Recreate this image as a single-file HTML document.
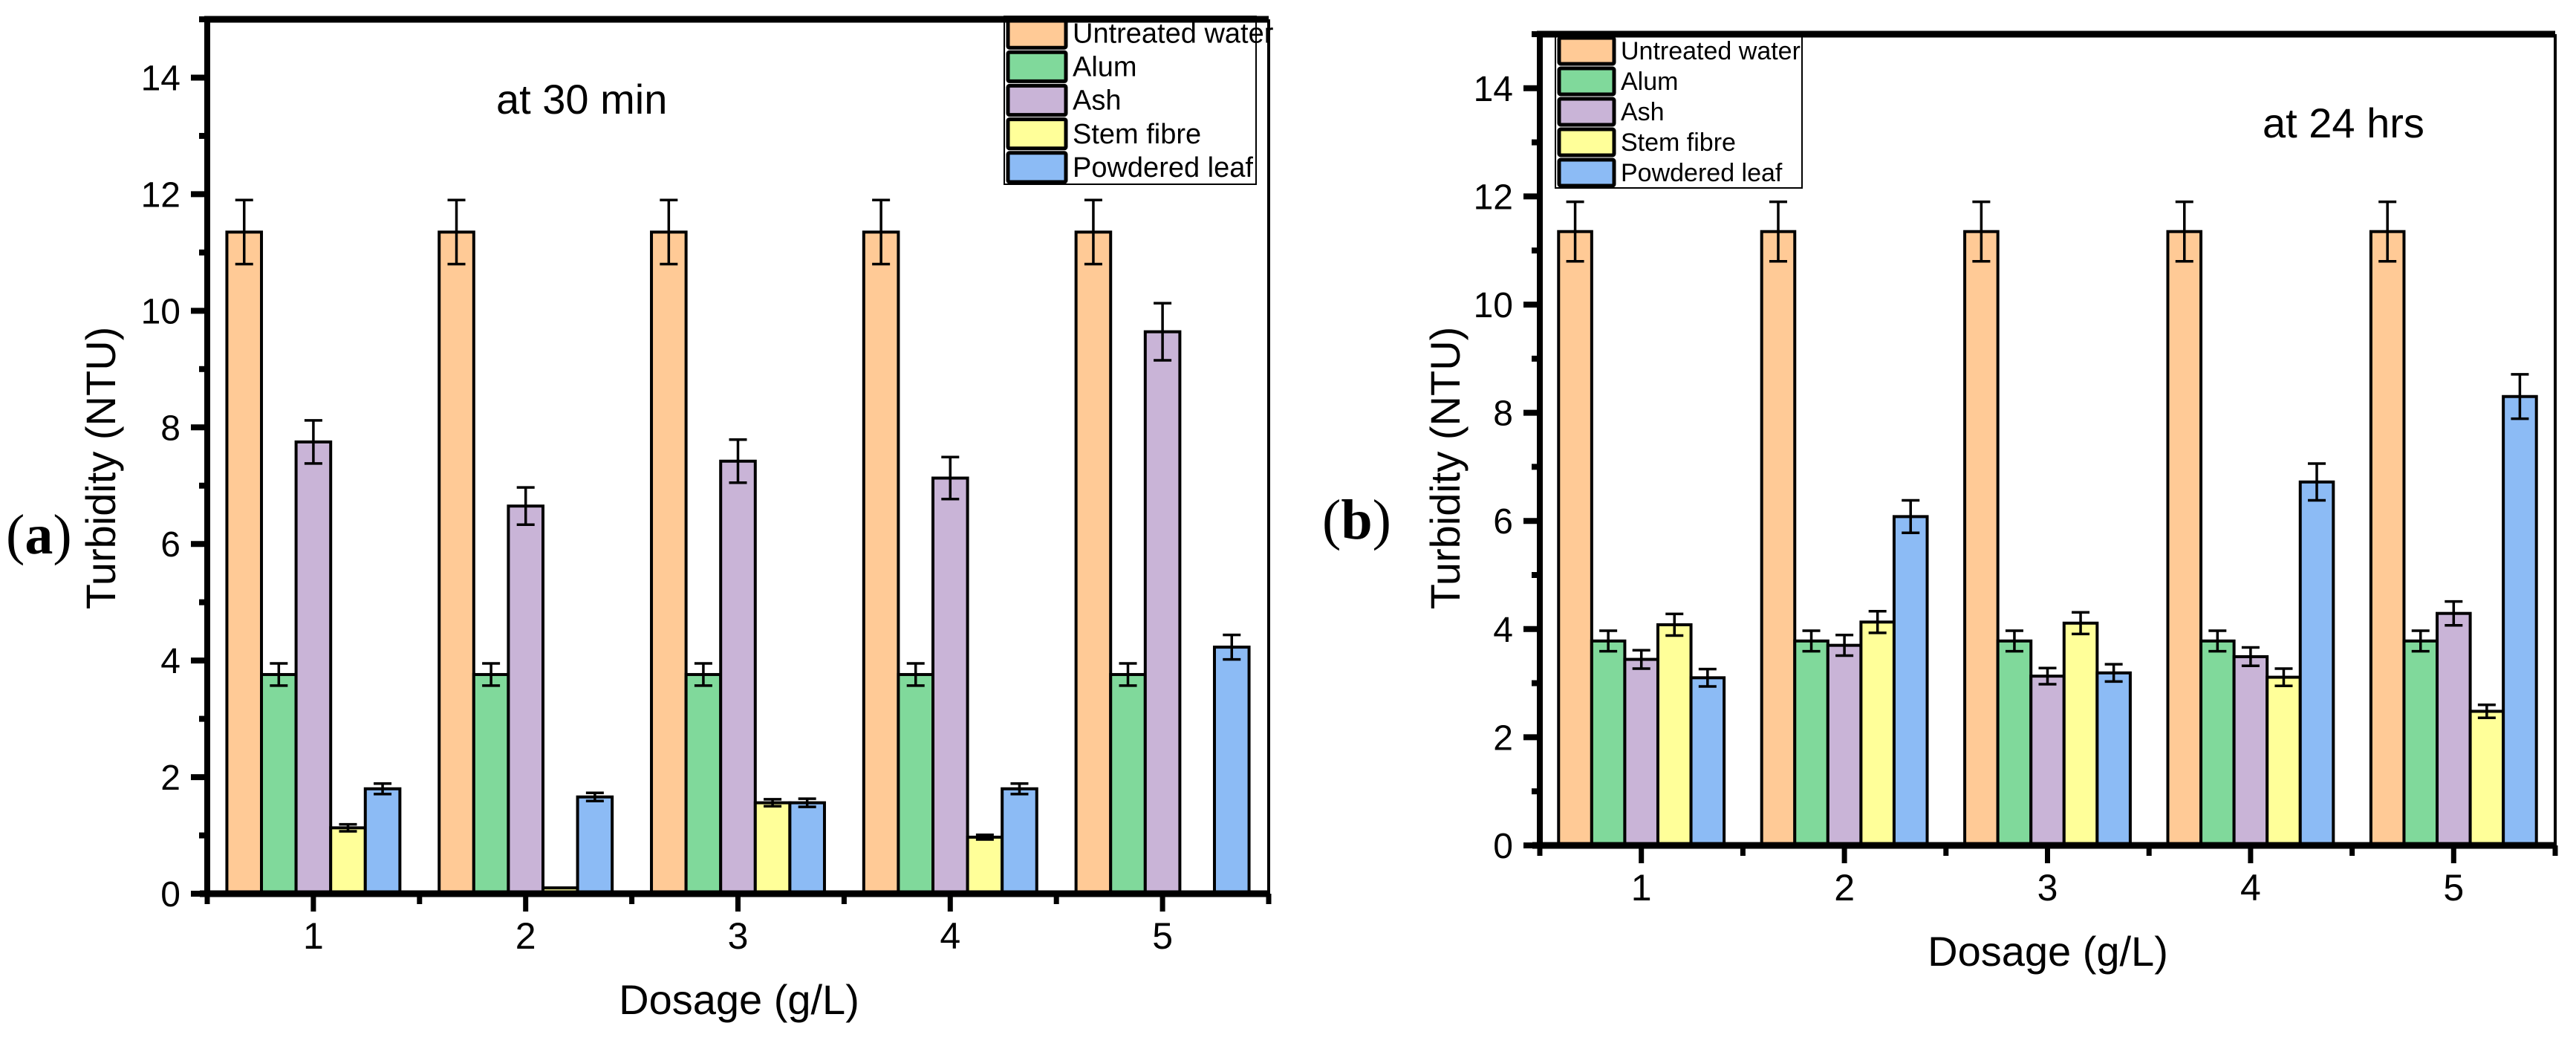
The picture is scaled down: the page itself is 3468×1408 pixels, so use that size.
<!DOCTYPE html>
<html><head><meta charset="utf-8"><style>
html,body{margin:0;padding:0;background:#fff;}
svg{display:block;}
text{font-family:"Liberation Sans",sans-serif;fill:#000;}
</style></head><body>
<svg id="fig" width="3468" height="1408" viewBox="0 0 3468 1408" xmlns="http://www.w3.org/2000/svg">
<rect width="3468" height="1408" fill="#fff"/>
</svg>
<script>
const categories = [1, 2, 3, 4, 5];
const seriesNames = ["Untreated water", "Alum", "Ash", "Stem fibre", "Powdered leaf"];
const seriesColors = ["#FFCA96", "#80D99B", "#C9B4D7", "#FFFF99", "#8CBBF5"];
const yTicks = [0, 2, 4, 6, 8, 10, 12, 14];
// panel (a) at 30 min
const a_untreated = [11.35, 11.35, 11.35, 11.35, 11.35];
const a_alum = [3.76, 3.76, 3.76, 3.76, 3.76];
const a_ash = [7.75, 6.65, 7.42, 7.13, 9.64];
const a_stem = [1.13, 0.1, 1.56, 0.97, 0];
const a_powder = [1.8, 1.66, 1.56, 1.8, 4.23];
const a_untreated_err = [0.55, 0.55, 0.55, 0.55, 0.55];
const a_alum_err = [0.19, 0.19, 0.19, 0.19, 0.19];
const a_ash_err = [0.37, 0.32, 0.37, 0.36, 0.49];
const a_stem_err = [0.06, 0, 0.06, 0.04, 0];
const a_powder_err = [0.09, 0.07, 0.07, 0.09, 0.21];
// panel (b) at 24 hrs
const b_untreated = [11.35, 11.35, 11.35, 11.35, 11.35];
const b_alum = [3.78, 3.78, 3.78, 3.78, 3.78];
const b_ash = [3.44, 3.7, 3.13, 3.49, 4.29];
const b_stem = [4.08, 4.13, 4.11, 3.11, 2.48];
const b_powder = [3.1, 6.08, 3.19, 6.72, 8.3];
const b_untreated_err = [0.55, 0.55, 0.55, 0.55, 0.55];
const b_alum_err = [0.19, 0.19, 0.19, 0.19, 0.19];
const b_ash_err = [0.17, 0.19, 0.15, 0.17, 0.22];
const b_stem_err = [0.2, 0.2, 0.2, 0.16, 0.12];
const b_powder_err = [0.16, 0.3, 0.16, 0.34, 0.41];

const NS = "http://www.w3.org/2000/svg";
const svg = document.getElementById("fig");
function mk(tag, attrs, parent) {
  const e = document.createElementNS(NS, tag);
  for (const k in attrs) e.setAttribute(k, attrs[k]);
  (parent || svg).appendChild(e);
  return e;
}

function panel(p) {
  const g = mk("g", {});
  
  
  const xs = c => p.L + (c - 0.5) * (p.R - p.L) / 5;
  const ys = v => p.B - v * (p.B - p.T) / 15;
  const unit = (p.R - p.L) / 5;
  const bw = unit * 0.163;
  // bars
  p.series.forEach((vals, si) => {
    vals.forEach((v, ci) => {
      const cx = xs(categories[ci]) + (si - 2) * bw;
      const r = mk("rect", {x: cx - bw / 2, y: ys(v), width: bw, height: ys(0) - ys(v), fill: seriesColors[si], stroke: "#000", "stroke-width": 4});
      
      
      g.appendChild(r);
    });
  });
  // error bars
  p.series.forEach((vals, si) => {
    vals.forEach((v, ci) => {
      const e = p.errs[si][ci];
      if (v <= 0 || e <= 0) return;
      const cx = xs(categories[ci]) + (si - 2) * bw;
      const eg = mk("g", {stroke: "#000", "stroke-width": 3.5}, g);
      
      
      mk("line", {x1: cx, x2: cx, y1: ys(v + e), y2: ys(v - e)}, eg);
      mk("line", {x1: cx - 12, x2: cx + 12, y1: ys(v + e), y2: ys(v + e)}, eg);
      mk("line", {x1: cx - 12, x2: cx + 12, y1: ys(v - e), y2: ys(v - e)}, eg);
    });
  });
  // frame
  mk("line", {x1: p.L - 4, x2: p.R, y1: p.T, y2: p.T, stroke: "#000", "stroke-width": 9}, g);
  mk("line", {x1: p.R, x2: p.R, y1: p.T, y2: p.B, stroke: "#000", "stroke-width": 4}, g);
  const yax = mk("line", {x1: p.L, x2: p.L, y1: p.T - 4, y2: p.B + 4, stroke: "#000", "stroke-width": 8}, g);
  
  
  const xax = mk("line", {x1: p.L - 10, x2: p.R + 2, y1: p.B, y2: p.B, stroke: "#000", "stroke-width": 9}, g);
  
  
  // y ticks
  for (let v = 0; v <= 15; v++) {
    const major = v % 2 === 0;
    mk("line", {x1: p.L - (major ? 22 : 11), x2: p.L, y1: ys(v), y2: ys(v), stroke: "#000", "stroke-width": 8}, g);
  }
  yTicks.forEach(v => {
    const t = mk("text", {x: p.L - 36, y: ys(v) + 17, "text-anchor": "end", "font-size": 48}, g);
    t.textContent = v;
    
    
  });
  // x ticks
  for (let h = 0.5; h <= 5.5; h += 0.5) {
    const major = Number.isInteger(h);
    mk("line", {x1: xs(h), x2: xs(h), y1: p.B, y2: p.B + (major ? 24 : 14), stroke: "#000", "stroke-width": 7}, g);
  }
  categories.forEach(c => {
    const t = mk("text", {x: xs(c), y: p.B + 74, "text-anchor": "middle", "font-size": 50}, g);
    t.textContent = c;
    
    
  });
  // titles
  const xt = mk("text", {x: p.xtX, y: p.xtY, "text-anchor": "middle", "font-size": 56}, g);
  xt.textContent = "Dosage (g/L)";
  
  
  const yt = mk("text", {x: 0, y: 0, "text-anchor": "middle", "font-size": 56, transform: `translate(${p.ytX},${p.ytY}) rotate(-90)`}, g);
  yt.textContent = "Turbidity (NTU)";
  
  
  const an = mk("text", {x: p.anX, y: p.anY, "font-size": 56}, g);
  an.textContent = p.annot;
  
  
  const lab = mk("text", {x: p.labX, y: p.labY, "font-size": 76, style: "font-family:'Liberation Serif',serif"}, g);
  lab.innerHTML = '(<tspan font-weight="bold">' + p.id + '</tspan>)';
  
  
  // legend
  const lg = mk("g", {}, g);
  
  
  mk("rect", {x: p.lgX, y: p.lgY, width: p.lgW, height: p.lgH, fill: "#fff", stroke: "#000", "stroke-width": 2}, lg);
  const rh = p.lgH / 5;
  seriesNames.forEach((n, i) => {
    const e = mk("g", {}, lg);
    
    
    mk("rect", {x: p.lgX + 5, y: p.lgY + i * rh + 3, width: p.patchW, height: rh - 6, fill: seriesColors[i], stroke: "#000", "stroke-width": 5, rx: 2}, e);
    const t = mk("text", {x: p.lgX + p.patchW + 14, y: p.lgY + i * rh + rh * 0.78, "font-size": p.lgFont}, e);
    t.textContent = n;
  });
  // redraw top frame over legend
  mk("line", {x1: p.L - 4, x2: p.R, y1: p.T, y2: p.T, stroke: "#000", "stroke-width": 9}, g);
}

panel({id: "a", L: 279, R: 1708, T: 26, B: 1203,
  series: [a_untreated, a_alum, a_ash, a_stem, a_powder],
  errs: [a_untreated_err, a_alum_err, a_ash_err, a_stem_err, a_powder_err],
  xtX: 995, xtY: 1365, ytX: 155, ytY: 630, anX: 668, anY: 153, annot: "at 30 min",
  labX: 8, labY: 745, lgX: 1352, lgY: 22, lgW: 339, lgH: 226, patchW: 78, lgFont: 38});
panel({id: "b", L: 2073, R: 3440, T: 46, B: 1138,
  series: [b_untreated, b_alum, b_ash, b_stem, b_powder],
  errs: [b_untreated_err, b_alum_err, b_ash_err, b_stem_err, b_powder_err],
  xtX: 2757, xtY: 1300, ytX: 1965, ytY: 630, anX: 3046, anY: 185, annot: "at 24 hrs",
  labX: 1780, labY: 725, lgX: 2094, lgY: 48, lgW: 332, lgH: 205, patchW: 74, lgFont: 34});
</script>
</body></html>
